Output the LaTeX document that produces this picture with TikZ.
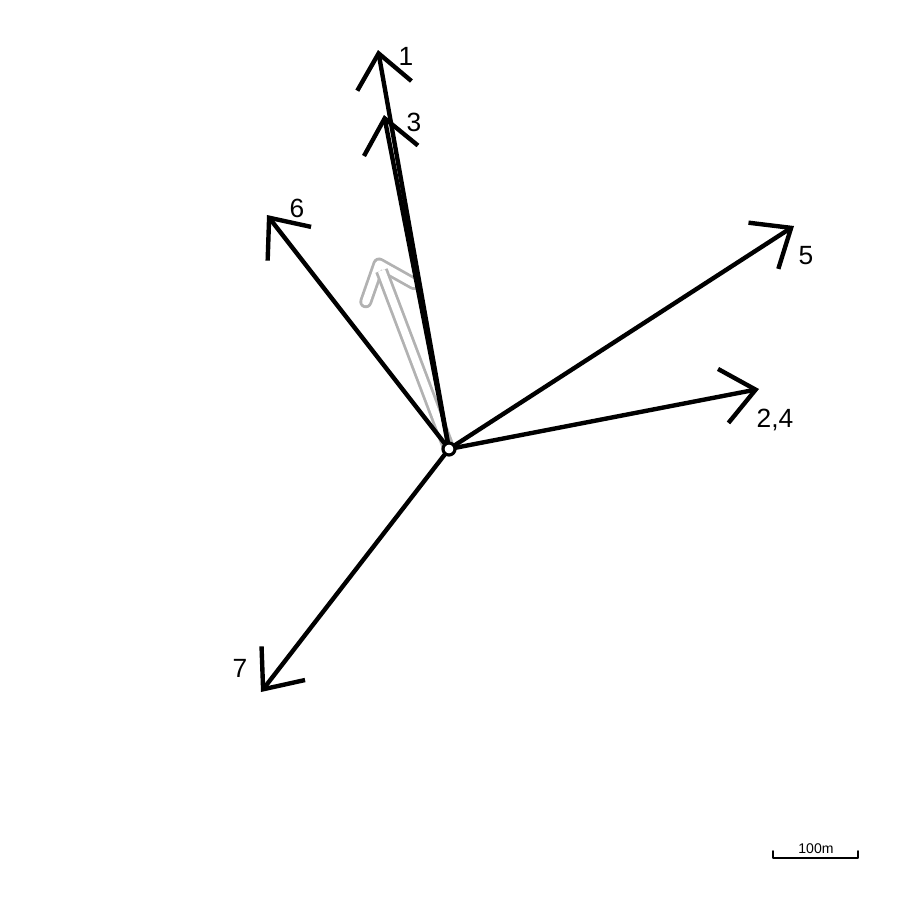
\documentclass[tikz,border=0pt]{standalone}
\usepackage{fontspec}
\setmainfont{Liberation Sans}
\usetikzlibrary{arrows.meta,calc}
\begin{document}
\begin{tikzpicture}[x=0.02cm,y=-0.02cm,line join=round,line cap=round,
  vec/.style={line width=2.5pt,-{Straight Barb[length=0.66cm,width=1.1cm]}},
  lab/.style={font=\fontsize{15}{17}\selectfont,inner sep=0pt},
  wind/.style={black!30,line width=1.6pt,double=white,double distance=4.2pt}]
\useasboundingbox (0,0) rectangle (900,900);
\coordinate (o) at (449,449);
\coordinate (w) at (379,264);
% wind
\coordinate (w1) at ($(w)!0.8cm!40:(o)$);
\coordinate (w2) at ($(w)!0.8cm!-40:(o)$);
\coordinate (w0) at ($(w)!0.14cm!(o)$);
\draw[wind] (w1) -- (w) -- (w2);
\draw[wind,line cap=butt] (o) -- (w0);
% displacement vectors
\foreach \x/\y/\n/\lx/\ly/\l in {378/50/a/406/56/1, 384/115/c/414/122/3, 267/215/f/297/208/6,
  794/226/e/806/256/5, 759/389/b/775/420/{2,4}, 261/692/g/240/668/7}{
  \coordinate (\n) at (\x,\y);
  \draw[vec] (o) -- (\n);
  \node[lab] (l\n) at (\lx,\ly) {\l};
}
\node[circle,draw,fill=white,line width=1.8pt,inner sep=0pt,minimum size=0.24cm] (oc) at (o) {};
% scale
\coordinate (s1) at (773,851);
\coordinate (s2) at (858,851);
\draw[line width=1pt] (s1) |- ++(85,7) -- (s2);
\node[font=\fontsize{8}{9}\selectfont,inner sep=0pt] (sl) at (816,849) {100m};
\end{tikzpicture}
\end{document}
